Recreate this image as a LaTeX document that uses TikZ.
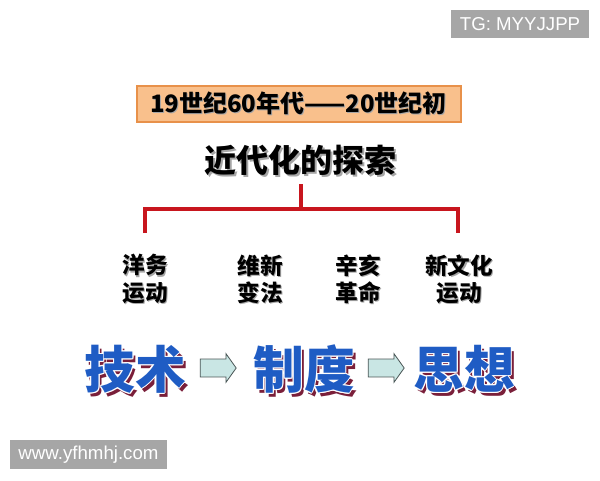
\documentclass[tikz,border=0pt]{standalone}
\usepackage{fontspec}
\setmainfont{Liberation Sans}
\newfontfamily\cjk{Noto Sans CJK SC}
\usetikzlibrary{shapes.arrows}
\definecolor{wmgrey}{HTML}{A6A6A6}
\definecolor{boxfill}{HTML}{F9C08C}
\definecolor{boxline}{HTML}{E8914A}
\definecolor{bracketred}{HTML}{C8161E}
\definecolor{bigblue}{HTML}{1F5CC4}
\definecolor{bigshadow}{HTML}{7A1F3A}
\definecolor{arrowfill}{HTML}{C9E6E4}
\definecolor{arrowline}{HTML}{4A5656}
\tikzset{
  wmark/.style={fill=wmgrey, text=white, inner sep=0pt, font=\fontsize{14}{16}\selectfont},
  labeltext/.style={font=\cjk\bfseries\fontsize{17}{20.3}\selectfont, align=center, text=black},
  lshadow/.style={font=\cjk\bfseries\fontsize{17}{20.3}\selectfont, align=center, text=black!35},
  bigtext/.style={font=\cjk\bfseries\fontsize{38}{40}\selectfont, text=bigblue, inner sep=0pt},
  bigwhite/.style={font=\cjk\bfseries\fontsize{38}{40}\selectfont, text=white, inner sep=0pt},
  bigshad/.style={font=\cjk\bfseries\fontsize{38}{40}\selectfont, text=bigshadow, inner sep=0pt},
  blockarrow/.style={single arrow, draw=arrowline, fill=arrowfill, line width=0.6pt,
    minimum height=27pt, inner xsep=0pt, inner ysep=6.4pt, single arrow head extend=4.1pt,
    single arrow tip angle=109},
  bracket/.style={draw=bracketred, line width=3pt}
}
\begin{document}
\begin{tikzpicture}[x=0.75pt,y=-0.75pt]
\useasboundingbox (0,0) rectangle (600,480);
\fill[white] (0,0) rectangle (600,480);
% watermarks
\node[wmark, minimum width=104pt, minimum height=21pt] (tg) at (520,24) {TG: MYYJJPP};
\node[wmark, minimum width=118pt, minimum height=22pt] (www) at (88.5,454.5) {www.yfhmhj.com};
% period box
\node[draw=boxline, fill=boxfill, line width=1.5pt, minimum width=243pt, minimum height=27pt, inner sep=0pt] (period) at (298.5,103.5) {};
\node[font=\cjk\bfseries\fontsize{18}{20}\selectfont, text=black!35] at (299.5,104.5) {19世纪60年代——20世纪初};
\node[font=\cjk\bfseries\fontsize{18}{20}\selectfont] (periodtext) at (298.5,103.5) {19世纪60年代——20世纪初};
% title
\node[font=\cjk\bfseries\fontsize{24}{28}\selectfont, text=black!35] at (302,162) {近代化的探索};
\node[font=\cjk\bfseries\fontsize{24}{28}\selectfont] (title) at (300,160) {近代化的探索};
% bracket
\coordinate (top) at (301,184);
\coordinate (mid) at (301,209);
\coordinate (l) at (145,209);
\coordinate (r) at (458,209);
\coordinate (ld) at (145,233);
\coordinate (rd) at (458,233);
\draw[bracket] (top) -- (mid);
\draw[bracket, line join=miter] (ld) -- (l) -- (r) -- (rd);
% labels
\foreach \n/\x/\t in {yw/145/{洋务\\运动}, wx/260/{维新\\变法}, xh/358/{辛亥\\革命}, xwh/459/{新文化\\运动}}{
  \node[lshadow] at (\x+1.5,280.5) {\t};
  \node[labeltext] (\n) at (\x,279) {\t};
}
% big words
\foreach \n/\x/\t in {js/135/技术, zd/304/制度, sx/464/思想}{
  \node[bigshad] at (\x+3,373) {\t};
  \foreach \dx/\dy in {-1.2/0,1.2/0,0/-1.2,0/1.2,-0.9/-0.9,0.9/0.9,-0.9/0.9,0.9/-0.9}
    \node[bigwhite] at (\x+\dx,369+\dy) {\t};
  \node[bigtext] (\n) at (\x,369) {\t};
}
\node[blockarrow] (a1) at (215,368) {};
\node[blockarrow] (a2) at (383,368) {};
\end{tikzpicture}
\end{document}
